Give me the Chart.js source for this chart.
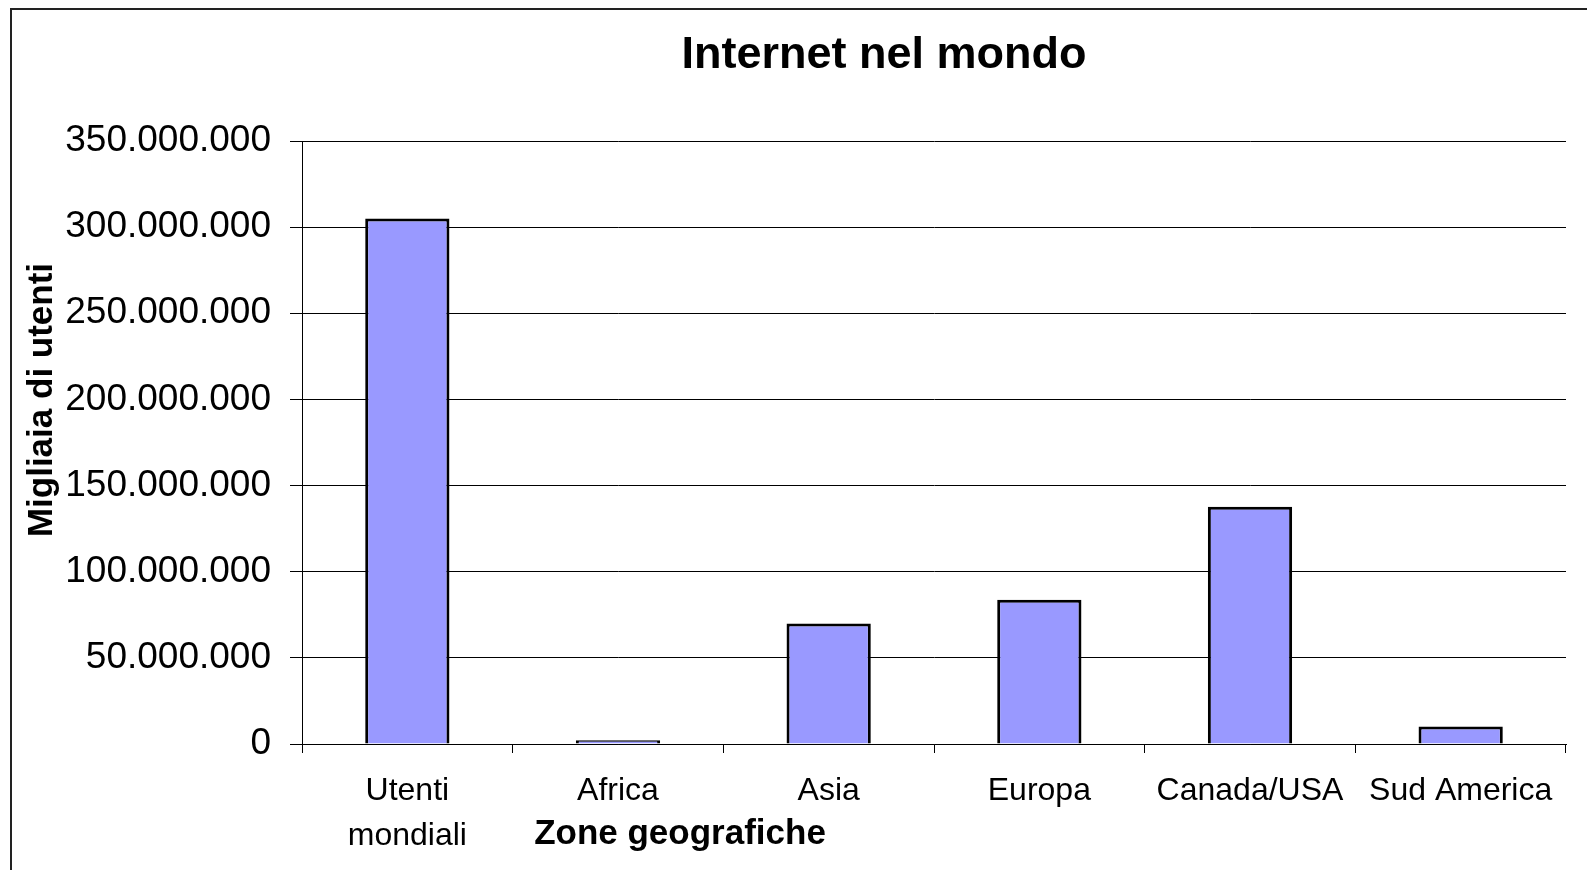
<!DOCTYPE html>
<html>
<head>
<meta charset="utf-8">
<title>Internet nel mondo</title>
<script src="https://cdn.jsdelivr.net/npm/chart.js@4/dist/chart.umd.min.js"></script>
<style>
    html, body { margin: 0; padding: 0; background: #fff; }
    #wrap { position: relative; width: 1587px; height: 870px; }
</style>
</head>
<body>
<div id="wrap"><canvas id="chart"></canvas></div>
<script>
// Chart data
const zones = [['Utenti', 'mondiali'], 'Africa', 'Asia', 'Europa', 'Canada/USA', 'Sud America'];
const users = [305000000, 2200000, 70000000, 83700000, 137700000, 10200000];
const yMax = 350000000;
const yStep = 50000000;

// Texts
const chartTitle = 'Internet nel mondo';
const xTitle = 'Zone geografiche';
const yTitle = 'Migliaia di utenti';

const FONT = "'Liberation Sans', Arial, sans-serif";

// Italian thousands separator
const formatNumber = (n) => String(n).replace(/\B(?=(\d{3})+(?!\d))/g, '.');

// Frame and titles, drawn at fixed spots like the original sheet
const decorations = {
    id: 'decorations',
    beforeDraw(chart) {
        const ctx = chart.ctx;
        ctx.save();
        ctx.strokeStyle = '#222';
        ctx.lineWidth = 2;
        ctx.strokeRect(11, 9, 1620, 900);
        ctx.restore();
    },
    afterDraw(chart) {
        const ctx = chart.ctx;
        ctx.save();
        ctx.fillStyle = '#000';
        ctx.textAlign = 'center';
        ctx.textBaseline = 'middle';

        ctx.font = `bold 45px ${FONT}`;
        ctx.fillText(chartTitle, 884, 56);

        ctx.font = `bold 35px ${FONT}`;
        ctx.fillText(xTitle, 680, 834);

        ctx.translate(42, 400);
        ctx.rotate(-Math.PI / 2);
        ctx.fillText(yTitle, 0, 0);
        ctx.restore();
    }
};

const ctx = document.getElementById('chart');

new Chart(ctx, {
    type: 'bar',
    data: {
        labels: zones,
        datasets: [{
            data: users,
            backgroundColor: '#9999FF',
            borderColor: '#000',
            borderWidth: 3,
            barPercentage: 0.4,
            categoryPercentage: 1
        }]
    },
    options: {
        responsive: true,
        maintainAspectRatio: false,
        animation: false,
        layout: {
            padding: { top: 141, right: 21, left: 0, bottom: 0 }
        },
        plugins: {
            legend: { display: false },
            tooltip: { enabled: false }
        },
        scales: {
            x: {
                grid: {
                    offset: true,
                    drawOnChartArea: false,
                    drawTicks: true,
                    tickLength: 9,
                    color: '#000'
                },
                border: { color: '#000', width: 1 },
                ticks: {
                    color: '#000',
                    padding: 16,
                    maxRotation: 0,
                    autoSkip: false,
                    font: { family: FONT, size: 32, lineHeight: 1.4 }
                },
                afterFit: (scale) => { scale.height = 126; }
            },
            y: {
                min: 0,
                max: yMax,
                grid: {
                    color: '#000',
                    tickLength: 12
                },
                border: { color: '#000', width: 1 },
                ticks: {
                    stepSize: yStep,
                    color: '#000',
                    padding: 19,
                    font: { family: FONT, size: 37 },
                    callback: (value) => formatNumber(value)
                },
                afterFit: (scale) => { scale.width = 302; }
            }
        }
    },
    plugins: [decorations]
});
</script>
</body>
</html>
